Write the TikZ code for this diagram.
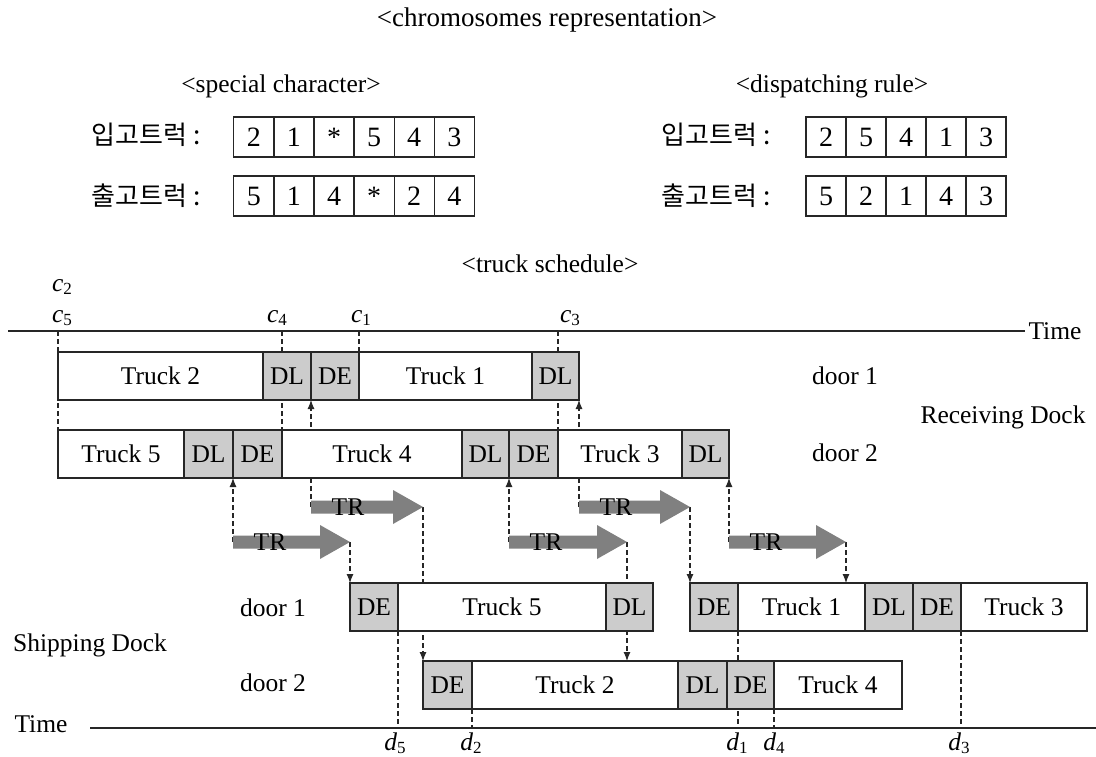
\documentclass[tikz,border=0pt]{standalone}
\usepackage{fontspec}
\setmainfont{Liberation Serif}
\newfontfamily\kr{Noto Sans CJK KR}
\usepackage{xcolor}
\usepackage{tikz}
\usetikzlibrary{arrows.meta, positioning, backgrounds}
\colorlet{boxgray}{black!20}
\colorlet{trgray}{black!50}
\newcommand{\timelbl}[2]{\textit{#1}\raisebox{-0.3ex}{\fontsize{17}{17}\selectfont #2}}

\begin{document}
\begin{tikzpicture}[x=1pt, y=-1pt, >={Latex[length=9pt, width=7pt]},
    font=\fontsize{25.5}{30}\selectfont,
    seg/.style={draw=black!85, line width=1.2pt, fill=white, minimum height=48pt,
      inner sep=0pt, outer sep=0pt, anchor=north west},
    gseg/.style={seg, fill=boxgray},
    cell/.style={draw=black!85, line width=1.2pt, minimum width=40pt, minimum height=40pt,
      inner sep=0pt, outer sep=0pt, anchor=north west, font=\fontsize{28}{30}\selectfont},
    korean/.style={font=\kr\fontsize{26}{30}\selectfont},
    guide/.style={black!85, line width=1.1pt, dash pattern=on 5pt off 3pt},
    link/.style={guide, ->},
    timeline/.style={black!85, line width=1.6pt}]

    \useasboundingbox (0,0) rectangle (1096,757);

    % chromosomes
    \node[font=\fontsize{27}{30}\selectfont] (title) at (547,20) {<chromosomes representation>};
    \node (hspec) at (281,86) {<special character>};
    \node (hdisp) at (832,86) {<dispatching rule>};

    \node[korean] (lsin) at (146,135) {입고트럭 :};
    \node[korean] (lsout) at (146,196) {출고트럭 :};
    \foreach \v [count=\i] in {2,1,*,5,4,3}
      \node[cell] (sin\i) at ({193.7+40.1*\i},117) {\v};
    \foreach \v [count=\i] in {5,1,4,*,2,4}
      \node[cell] (sout\i) at ({193.7+40.1*\i},176) {\v};

    \node[korean] (ldin) at (716,135) {입고트럭 :};
    \node[korean] (ldout) at (716,196) {출고트럭 :};
    \foreach \v [count=\i] in {2,5,4,1,3}
      \node[cell] (din\i) at ({766+40*\i},117) {\v};
    \foreach \v [count=\i] in {5,2,1,4,3}
      \node[cell] (dout\i) at ({766+40*\i},176) {\v};

    % truck schedule
    \node (hsched) at (550,264) {<truck schedule>};

    \coordinate (tl0) at (8,331);
    \coordinate (tl1) at (1025,331);
    \draw[timeline] (tl0) -- (tl1);
    \node[anchor=west] (ttop) at (tl1) {Time};

    \coordinate (bl0) at (90,728);
    \coordinate (bl1) at (1096,728);
    \draw[timeline] (bl0) -- (bl1);
    \node (tbot) at (41,724) {Time};

    % receiving dock
    \node[seg, minimum width=205pt] (r1a) at (58,352) {Truck 2};
    \node[gseg, minimum width=48pt, right=0pt of r1a] (r1b) {DL};
    \node[gseg, minimum width=48pt, right=0pt of r1b] (r1c) {DE};
    \node[seg, minimum width=173pt, right=0pt of r1c] (r1d) {Truck 1};
    \node[gseg, minimum width=47pt, right=0pt of r1d] (r1e) {DL};

    \node[seg, minimum width=126pt] (r2a) at (58,430) {Truck 5};
    \node[gseg, minimum width=49pt, right=0pt of r2a] (r2b) {DL};
    \node[gseg, minimum width=49pt, right=0pt of r2b] (r2c) {DE};
    \node[seg, minimum width=180pt, right=0pt of r2c] (r2d) {Truck 4};
    \node[gseg, minimum width=47pt, right=0pt of r2d] (r2e) {DL};
    \node[gseg, minimum width=49pt, right=0pt of r2e] (r2f) {DE};
    \node[seg, minimum width=124pt, right=0pt of r2f] (r2g) {Truck 3};
    \node[gseg, minimum width=47pt, right=0pt of r2g] (r2h) {DL};

    \node (rdoor1) at (845,376) {door 1};
    \node (rdoor2) at (845,453) {door 2};
    \node (rdock) at (1003,417) {Receiving Dock};

    % shipping dock
    \node[gseg, minimum width=48pt] (s1a) at (350,583) {DE};
    \node[seg, minimum width=208pt, right=0pt of s1a] (s1b) {Truck 5};
    \node[gseg, minimum width=47pt, right=0pt of s1b] (s1c) {DL};
    \node[gseg, minimum width=48pt] (s1d) at (690,583) {DE};
    \node[seg, minimum width=127pt, right=0pt of s1d] (s1e) {Truck 1};
    \node[gseg, minimum width=48pt, right=0pt of s1e] (s1f) {DL};
    \node[gseg, minimum width=48pt, right=0pt of s1f] (s1g) {DE};
    \node[seg, minimum width=126pt, right=0pt of s1g] (s1h) {Truck 3};

    \node[gseg, minimum width=49pt] (s2a) at (423,661) {DE};
    \node[seg, minimum width=206pt, right=0pt of s2a] (s2b) {Truck 2};
    \node[gseg, minimum width=49pt, right=0pt of s2b] (s2c) {DL};
    \node[gseg, minimum width=47pt, right=0pt of s2c] (s2d) {DE};
    \node[seg, minimum width=128pt, right=0pt of s2d] (s2e) {Truck 4};

    \node (sdoor1) at (273,608) {door 1};
    \node (sdoor2) at (273,683) {door 2};
    \node (sdock) at (90,645) {Shipping Dock};

    % transfer arrows
    \foreach \xs/\xt/\yy/\n in {233/350/542/1, 311/423/507/2, 509/627/542/3,
                                579/690/507/4, 729/846/542/5} {
      \fill[trgray] (\xs,{\yy-6.5}) -- ({\xt-30},{\yy-6.5}) -- ({\xt-30},{\yy-17})
        -- (\xt,\yy) -- ({\xt-30},{\yy+17}) -- ({\xt-30},{\yy+6.5}) -- (\xs,{\yy+6.5}) -- cycle;
      \node (tr\n) at ({\xs+37},\yy) {TR};
      \coordinate (tr\n s) at (\xs,\yy);
      \coordinate (tr\n t) at (\xt,\yy);
    }

    % time marks
    \node[anchor=base] (c2) at (62,291) {\timelbl{c}{2}};
    \node[anchor=base] (c5) at (62,322) {\timelbl{c}{5}};
    \node[anchor=base] (c4) at (277,322) {\timelbl{c}{4}};
    \node[anchor=base] (c1) at (361,322) {\timelbl{c}{1}};
    \node[anchor=base] (c3) at (570,322) {\timelbl{c}{3}};
    \node[anchor=base] (d5) at (395,750) {\timelbl{d}{5}};
    \node[anchor=base] (d2) at (471,750) {\timelbl{d}{2}};
    \node[anchor=base] (d1) at (737,750) {\timelbl{d}{1}};
    \node[anchor=base] (d4) at (774,750) {\timelbl{d}{4}};
    \node[anchor=base] (d3) at (959,750) {\timelbl{d}{3}};

    \begin{scope}[on background layer]
      \draw[guide] (r2a.north west |- tl0) -- (r2a.north west);
      \draw[guide] (r2d.north west |- tl0) -- (r2d.north west);
      \draw[guide] (r1d.north west |- tl0) -- (r1d.north west);
      \draw[guide] (r2g.north west |- tl0) -- (r2g.north west);
      \draw[guide] (s1b.south west) -- (s1b.south west |- bl0);
      \draw[guide] (s2b.south west) -- (s2b.south west |- bl0);
      \draw[guide] (s1e.south west) -- (s1e.south west |- bl0);
      \draw[guide] (s2e.south west) -- (s2e.south west |- bl0);
      \draw[guide] (s1h.south west) -- (s1h.south west |- bl0);

      \draw[link] (tr1s) -- (r2c.south west);
      \draw[link] (tr1t) -- (s1a.north west);
      \draw[link] (tr2s) -- (r1c.south west);
      \draw[link] (tr2t) -- (tr2t |- s2a.north);
      \draw[link] (tr3s) -- (r2f.south west);
      \draw[link] (tr3t) -- (tr3t |- s2b.north);
      \draw[link] (tr4s) -- (r1e.south east);
      \draw[link] (tr4t) -- (s1d.north west);
      \draw[link] (tr5s) -- (r2h.south east);
      \draw[link] (tr5t) -- (tr5t |- s1e.north);
    \end{scope}
\end{tikzpicture}
\end{document}
